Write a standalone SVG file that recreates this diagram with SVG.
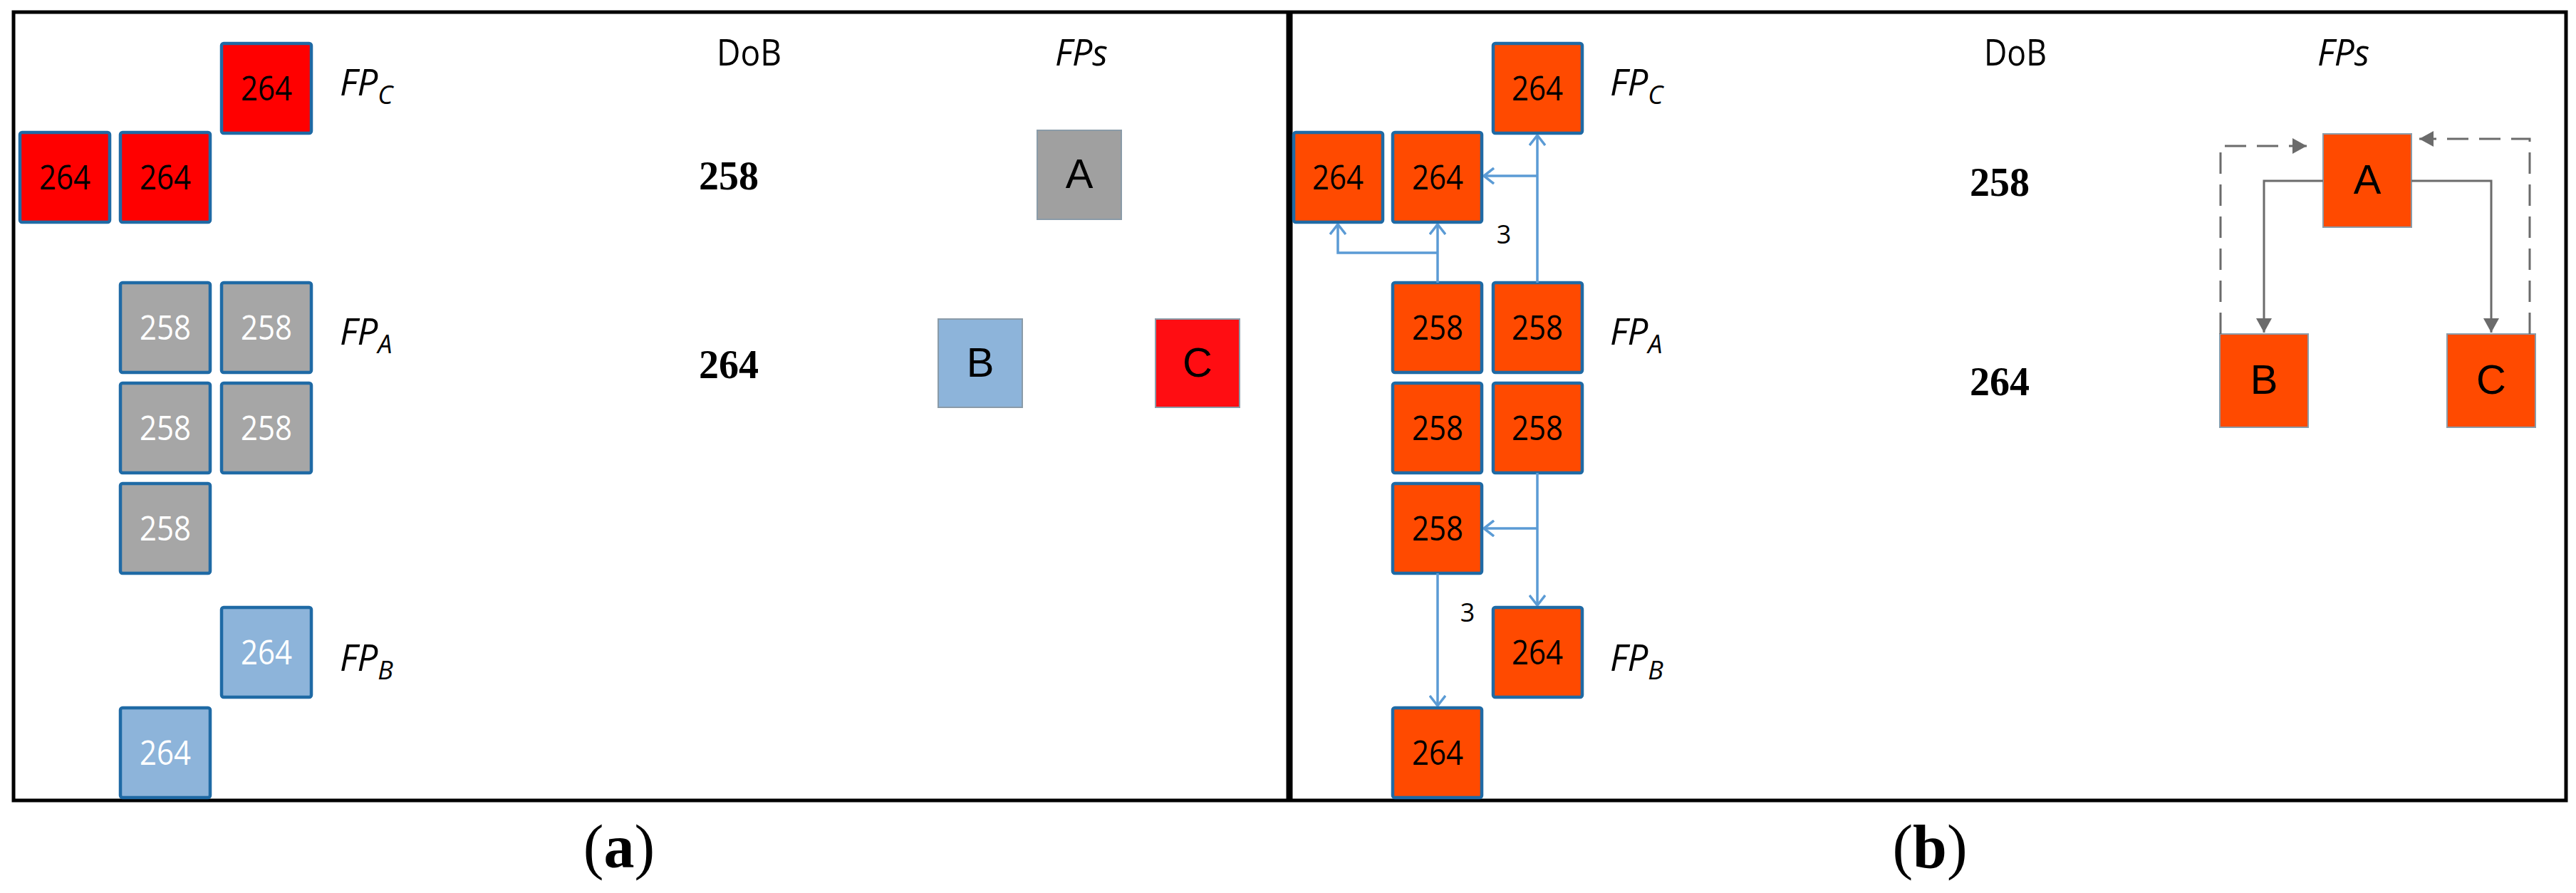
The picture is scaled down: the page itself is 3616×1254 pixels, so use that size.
<svg xmlns="http://www.w3.org/2000/svg" width="3616" height="1254" viewBox="0 0 3616 1254">
<style>
.frame{fill:none;stroke:#000;stroke-width:5}
.cell{stroke:#1F6AA5;stroke-width:4.5}
.red{fill:#FF0000}
.gray{fill:#A6A6A6}
.lblue{fill:#8DB4DA}
.orange{fill:#FF4A00}
.num{font-family:"Open Sans","Liberation Sans",sans-serif;font-size:47px;text-anchor:middle}
.w{fill:#fff}
.k{fill:#000}
.fp{font-family:"Open Sans","Liberation Sans",sans-serif;font-size:51px;font-style:italic;fill:#000}
.sub{font-size:36px}
.hdr{font-family:"Open Sans","Liberation Sans",sans-serif;font-size:52px;fill:#000}
.dob{font-family:"Liberation Serif","Times New Roman",serif;font-size:56px;font-weight:bold;fill:#000}
.fpbox{stroke:#8A9BA8;stroke-width:2}
.let{font-family:"Liberation Sans",Arial,sans-serif;font-size:58px;text-anchor:middle;fill:#000}
.blue{fill:none;stroke:#5B9BD5;stroke-width:3.5}
.grayln{fill:none;stroke:#6B6B6B;stroke-width:3}
.dash{stroke-dasharray:30 15}
.three{font-family:"Open Sans","Liberation Sans",sans-serif;font-size:36px;text-anchor:middle;fill:#000}
.cap{font-family:"Liberation Serif","Times New Roman",serif;font-size:86px;text-anchor:middle;fill:#000}
</style>
<defs>
<marker id="open" viewBox="0 0 16 24" refX="15" refY="12" markerWidth="16" markerHeight="24" markerUnits="userSpaceOnUse" orient="auto">
<path d="M1,1 L15,12 L1,23" fill="none" stroke="#5B9BD5" stroke-width="3.5"/>
</marker>
<marker id="tri" viewBox="0 0 20 22" refX="20" refY="11" markerWidth="20" markerHeight="22" markerUnits="userSpaceOnUse" orient="auto">
<path d="M0,0 L20,11 L0,22 Z" fill="#6B6B6B"/>
</marker>
</defs>
<rect width="3616" height="1254" fill="#fff"/>

<g id="frames">
<rect class="frame" x="19" y="17" width="3583" height="1107"/>
<line x1="1810" y1="17" x2="1810" y2="1124" stroke="#000" stroke-width="9"/>
</g>

<!-- Panel a -->
<g id="a-c1"><rect class="cell red" x="311" y="61" width="126" height="126" rx="3"/><text class="num k" x="374" y="141" textLength="72" lengthAdjust="spacingAndGlyphs">264</text></g>
<g id="a-c2"><rect class="cell red" x="28" y="186" width="126" height="126" rx="3"/><text class="num k" x="91" y="266" textLength="72" lengthAdjust="spacingAndGlyphs">264</text></g>
<g id="a-c3"><rect class="cell red" x="169" y="186" width="126" height="126" rx="3"/><text class="num k" x="232" y="266" textLength="72" lengthAdjust="spacingAndGlyphs">264</text></g>
<g id="a-a1"><rect class="cell gray" x="169" y="397" width="126" height="126" rx="3"/><text class="num w" x="232" y="477" textLength="72" lengthAdjust="spacingAndGlyphs">258</text></g>
<g id="a-a2"><rect class="cell gray" x="311" y="397" width="126" height="126" rx="3"/><text class="num w" x="374" y="477" textLength="72" lengthAdjust="spacingAndGlyphs">258</text></g>
<g id="a-a3"><rect class="cell gray" x="169" y="538" width="126" height="126" rx="3"/><text class="num w" x="232" y="618" textLength="72" lengthAdjust="spacingAndGlyphs">258</text></g>
<g id="a-a4"><rect class="cell gray" x="311" y="538" width="126" height="126" rx="3"/><text class="num w" x="374" y="618" textLength="72" lengthAdjust="spacingAndGlyphs">258</text></g>
<g id="a-a5"><rect class="cell gray" x="169" y="679" width="126" height="126" rx="3"/><text class="num w" x="232" y="759" textLength="72" lengthAdjust="spacingAndGlyphs">258</text></g>
<g id="a-b1"><rect class="cell lblue" x="311" y="853" width="126" height="126" rx="3"/><text class="num w" x="374" y="933" textLength="72" lengthAdjust="spacingAndGlyphs">264</text></g>
<g id="a-b2"><rect class="cell lblue" x="169" y="994" width="126" height="126" rx="3"/><text class="num w" x="232" y="1074" textLength="72" lengthAdjust="spacingAndGlyphs">264</text></g>

<g id="a-labels">
<text class="fp" x="477" y="134">FP<tspan class="sub" dy="12">C</tspan></text>
<text class="fp" x="477" y="484">FP<tspan class="sub" dy="12">A</tspan></text>
<text class="fp" x="477" y="942">FP<tspan class="sub" dy="12">B</tspan></text>
<text class="hdr" x="1006" y="92" textLength="91" lengthAdjust="spacingAndGlyphs">DoB</text>
<text class="hdr" x="1481" y="92" font-style="italic" textLength="74" lengthAdjust="spacingAndGlyphs">FPs</text>
<text class="dob" x="981" y="266">258</text>
<text class="dob" x="981" y="531">264</text>
</g>
<g id="a-A"><rect class="fpbox" x="1456" y="183" width="118" height="125" fill="#A0A0A0"/><text class="let" x="1515" y="264">A</text></g>
<g id="a-B"><rect class="fpbox" x="1317" y="448" width="118" height="124" fill="#8DB4DA"/><text class="let" x="1376" y="529">B</text></g>
<g id="a-C"><rect class="fpbox" x="1622" y="448" width="118" height="124" fill="#FF0D12"/><text class="let" x="1681" y="529">C</text></g>

<!-- Panel b -->
<g id="b-c1"><rect class="cell orange" x="2096" y="61" width="125" height="126" rx="3"/><text class="num k" x="2158" y="141" textLength="72" lengthAdjust="spacingAndGlyphs">264</text></g>
<g id="b-c2"><rect class="cell orange" x="1816" y="186" width="125" height="126" rx="3"/><text class="num k" x="1878" y="266" textLength="72" lengthAdjust="spacingAndGlyphs">264</text></g>
<g id="b-c3"><rect class="cell orange" x="1955" y="186" width="125" height="126" rx="3"/><text class="num k" x="2018" y="266" textLength="72" lengthAdjust="spacingAndGlyphs">264</text></g>
<g id="b-a1"><rect class="cell orange" x="1955" y="397" width="125" height="126" rx="3"/><text class="num k" x="2018" y="477" textLength="72" lengthAdjust="spacingAndGlyphs">258</text></g>
<g id="b-a2"><rect class="cell orange" x="2096" y="397" width="125" height="126" rx="3"/><text class="num k" x="2158" y="477" textLength="72" lengthAdjust="spacingAndGlyphs">258</text></g>
<g id="b-a3"><rect class="cell orange" x="1955" y="538" width="125" height="126" rx="3"/><text class="num k" x="2018" y="618" textLength="72" lengthAdjust="spacingAndGlyphs">258</text></g>
<g id="b-a4"><rect class="cell orange" x="2096" y="538" width="125" height="126" rx="3"/><text class="num k" x="2158" y="618" textLength="72" lengthAdjust="spacingAndGlyphs">258</text></g>
<g id="b-a5"><rect class="cell orange" x="1955" y="679" width="125" height="126" rx="3"/><text class="num k" x="2018" y="759" textLength="72" lengthAdjust="spacingAndGlyphs">258</text></g>
<g id="b-b1"><rect class="cell orange" x="2096" y="853" width="125" height="126" rx="3"/><text class="num k" x="2158" y="933" textLength="72" lengthAdjust="spacingAndGlyphs">264</text></g>
<g id="b-b2"><rect class="cell orange" x="1955" y="994" width="125" height="126" rx="3"/><text class="num k" x="2018" y="1074" textLength="72" lengthAdjust="spacingAndGlyphs">264</text></g>

<g id="b-labels">
<text class="fp" x="2260" y="134">FP<tspan class="sub" dy="12">C</tspan></text>
<text class="fp" x="2260" y="484">FP<tspan class="sub" dy="12">A</tspan></text>
<text class="fp" x="2260" y="942">FP<tspan class="sub" dy="12">B</tspan></text>
<text class="three" x="2111" y="342">3</text>
<text class="three" x="2060" y="873">3</text>
<text class="hdr" x="2785" y="92" textLength="88" lengthAdjust="spacingAndGlyphs">DoB</text>
<text class="hdr" x="3253" y="92" font-style="italic" textLength="73" lengthAdjust="spacingAndGlyphs">FPs</text>
<text class="dob" x="2765" y="275">258</text>
<text class="dob" x="2765" y="555">264</text>
</g>
<g id="b-A"><rect class="fpbox orange" x="3261" y="188" width="124" height="131"/><text class="let" x="3323" y="272">A</text></g>
<g id="b-B"><rect class="fpbox orange" x="3116" y="469" width="124" height="131"/><text class="let" x="3178" y="553">B</text></g>
<g id="b-C"><rect class="fpbox orange" x="3435" y="469" width="124" height="131"/><text class="let" x="3497" y="553">C</text></g>

<g id="connectors">
<path class="blue" d="M2158,397 V190" marker-end="url(#open)"/>
<path class="blue" d="M2158,247 H2083" marker-end="url(#open)"/>
<path class="blue" d="M2018,397 V315" marker-end="url(#open)"/>
<path class="blue" d="M2018,355 H1878 V315" marker-end="url(#open)"/>
<path class="blue" d="M2158,664 V850" marker-end="url(#open)"/>
<path class="blue" d="M2158,742 H2083" marker-end="url(#open)"/>
<path class="blue" d="M2018,805 V991" marker-end="url(#open)"/>
<path class="grayln" d="M3261,254 H3178 V467" marker-end="url(#tri)"/>
<path class="grayln" d="M3385,254 H3497 V467" marker-end="url(#tri)"/>
<path class="grayln dash" d="M3117,469 V205 H3238" marker-end="url(#tri)"/>
<path class="grayln dash" d="M3551,469 V195 H3396" marker-end="url(#tri)"/>
</g>

<g id="captions">
<text class="cap" x="869" y="1218">(<tspan font-weight="bold">a</tspan>)</text>
<text class="cap" x="2709" y="1218">(<tspan font-weight="bold">b</tspan>)</text>
</g>
</svg>
